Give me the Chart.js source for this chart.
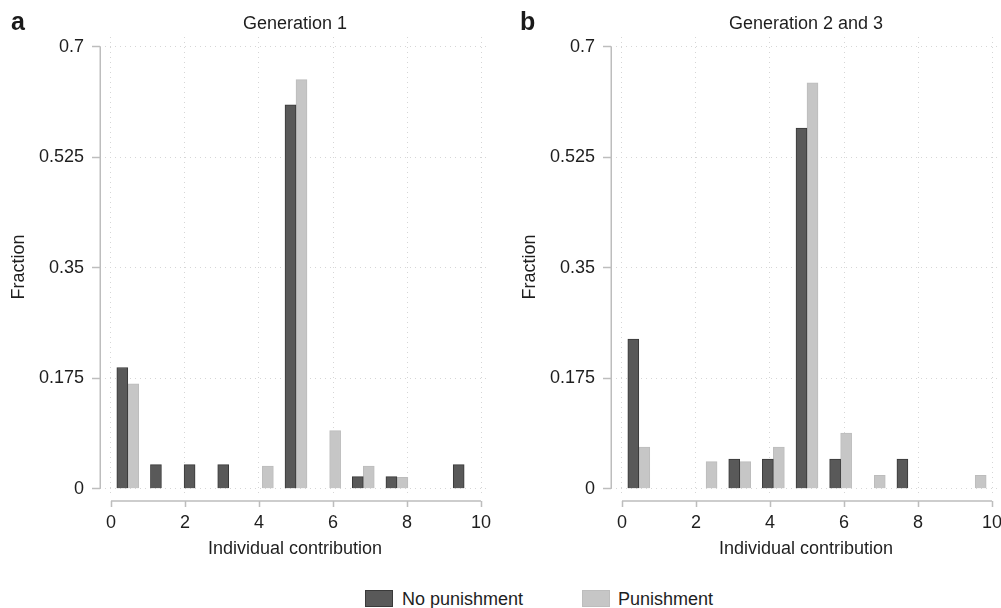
<!DOCTYPE html>
<html>
<head>
<meta charset="utf-8">
<script src="https://cdn.jsdelivr.net/npm/chart.js@4.4.1/dist/chart.umd.min.js"></script>
<style>
html, body { margin:0; padding:0; width:1001px; height:608px; overflow:hidden; background:#fff;
  font-family:"Liberation Sans", Arial, sans-serif; color:#1e1e1e; }
.panel { position:absolute; top:0; width:500px; height:570px; }
#pa { left:0; }
#pb { left:511px; }
.letter { position:absolute; font-weight:bold; font-size:25px; line-height:25px; color:#1a1a1a; }
.lg-box { position:absolute; top:590px; width:28px; height:17px; box-sizing:border-box; }
.lg-text { position:absolute; top:590px; font-size:18px; line-height:18px; white-space:nowrap; color:#1e1e1e; }
</style>
</head>
<body>
<div class="panel" id="pa"><canvas id="ca" width="500" height="570"></canvas></div>
<div class="panel" id="pb"><canvas id="cb" width="500" height="570"></canvas></div>
<div class="letter" style="left:11px;top:9px;">a</div>
<div class="letter" style="left:520px;top:9px;">b</div>
<div class="lg-box" style="left:365px;background:#595959;border:1px solid #3a3a3a;"></div>
<div class="lg-text" id="lg1" style="left:402px;"></div>
<div class="lg-box" style="left:582px;background:#c6c6c6;border:1px solid #bdbdbd;"></div>
<div class="lg-text" id="lg2" style="left:618px;"></div>
<script>
// ---- data ----
const categories = [0, 1, 2, 3, 4, 5, 6, 7, 8, 9, 10];
const gen1NoPunishment  = [0.192, 0.038, 0.038, 0.038, null, 0.608, null, 0.019, 0.019, null, 0.038];
const gen1Punishment    = [0.166, null, null, null, 0.036, 0.648, 0.092, 0.036, 0.018, null, null];
const gen23NoPunishment = [0.237, null, null, 0.047, 0.047, 0.571, 0.047, null, 0.047, null, null];
const gen23Punishment   = [0.066, null, 0.043, 0.043, 0.066, 0.643, 0.088, 0.021, null, null, 0.021];
const xTicks = [0, 2, 4, 6, 8, 10];
const yTicks = [0, 0.175, 0.35, 0.525, 0.7];
const yTickLabels = ['0', '0.175', '0.35', '0.525', '0.7'];
const seriesNames = ['No punishment', 'Punishment'];
const panelTitles = ['Generation 1', 'Generation 2 and 3'];
const xTitle = 'Individual contribution';
const yTitle = 'Fraction';

document.getElementById('lg1').textContent = seriesNames[0];
document.getElementById('lg2').textContent = seriesNames[1];

const FONT = '"Liberation Sans", Arial, sans-serif';
const TXT = '#1e1e1e';
const GRID = '#d6d6d6';
const AXIS = '#bdbdbd';

// display axis range (contribution units) and the matching range of the category-index axis
const dispMin = -0.297, dispMax = 10.243;
const nCat = categories.length;
const toIdx = d => d * nCat / 10 - 0.5;

const axisLines = {
  id: 'axisLines',
  afterDraw(chart) {
    const {ctx, chartArea, scales} = chart;
    const xs = scales.x, ys = scales.y;
    ctx.save();
    ctx.strokeStyle = AXIS;
    ctx.lineWidth = 1.5;
    const xl = chartArea.left + 0.25;
    ctx.beginPath();
    ctx.moveTo(xl, ys.getPixelForValue(yTicks[yTicks.length - 1]));
    ctx.lineTo(xl, ys.getPixelForValue(yTicks[0]));
    ctx.stroke();
    const ya = chartArea.bottom + 4;
    ctx.beginPath();
    ctx.moveTo(xs.getPixelForValue(xTicks[0]), ya);
    ctx.lineTo(xs.getPixelForValue(xTicks[xTicks.length - 1]), ya);
    xTicks.forEach(v => {
      const p = Math.round(xs.getPixelForValue(v)) + 0.5;
      ctx.moveTo(p, ya);
      ctx.lineTo(p, ya + 6);
    });
    ctx.stroke();
    ctx.restore();
  }
};

function makeChart(id, title, noP, p) {
  return new Chart(document.getElementById(id), {
    type: 'bar',
    data: {
      labels: categories,
      datasets: [
        { label: seriesNames[0], data: noP, xAxisID: 'xb', yAxisID: 'y',
          backgroundColor: '#595959', borderColor: '#383838', borderWidth: 1, barThickness: 11 },
        { label: seriesNames[1], data: p, xAxisID: 'xb', yAxisID: 'y',
          backgroundColor: '#c6c6c6', borderColor: '#bcbcbc', borderWidth: 1, barThickness: 11 }
      ]
    },
    options: {
      responsive: false,
      animation: false,
      devicePixelRatio: 1,
      layout: { padding: { left: 0, right: 10, top: 0, bottom: 0 } },
      plugins: {
        legend: { display: false },
        tooltip: { enabled: false },
        title: { display: true, text: title, fullSize: false, color: TXT,
          font: { family: FONT, size: 18, weight: 'normal', lineHeight: 1.2 },
          padding: { top: 13, bottom: 2.4 } }
      },
      scales: {
        xb: {
          type: 'linear', display: false, offset: false,
          min: toIdx(dispMin), max: toIdx(dispMax),
          afterBuildTicks: s => { s.ticks = categories.map(v => ({ value: v })); }
        },
        x: {
          type: 'linear', position: 'bottom', min: dispMin, max: dispMax, offset: false,
          afterBuildTicks: s => { s.ticks = xTicks.map(v => ({ value: v })); },
          afterFit: s => { s.height = 73; },
          ticks: { color: TXT, font: { family: FONT, size: 18 }, padding: 5, maxRotation: 0,
            callback: v => String(v) },
          grid: { offset: false, color: GRID, lineWidth: 1, tickLength: 10, tickColor: 'rgba(0,0,0,0)', tickBorderDash: [] },
          border: { display: false, dash: [1, 4] },
          title: { display: true, text: xTitle, color: TXT,
            font: { family: FONT, size: 18, lineHeight: 1.2 }, padding: { top: 0, bottom: 9.9 } }
        },
        y: {
          type: 'linear', position: 'left', min: -0.01315, max: 0.7154,
          afterBuildTicks: s => { s.ticks = yTicks.map(v => ({ value: v })); },
          afterFit: s => { s.width = 100; },
          ticks: { color: TXT, font: { family: FONT, size: 18 }, padding: 8,
            callback: (v) => yTickLabels[yTicks.indexOf(v)] },
          grid: { color: GRID, lineWidth: 1, tickLength: 8, tickColor: AXIS, tickWidth: 1.5, tickBorderDash: [] },
          border: { display: false, dash: [1, 4] },
          title: { display: true, text: yTitle, color: TXT,
            font: { family: FONT, size: 18, lineHeight: 1.2 }, padding: { top: 8.2, bottom: 0 } }
        }
      }
    },
    plugins: [axisLines]
  });
}

makeChart('ca', panelTitles[0], gen1NoPunishment, gen1Punishment);
makeChart('cb', panelTitles[1], gen23NoPunishment, gen23Punishment);
</script>
</body>
</html>
